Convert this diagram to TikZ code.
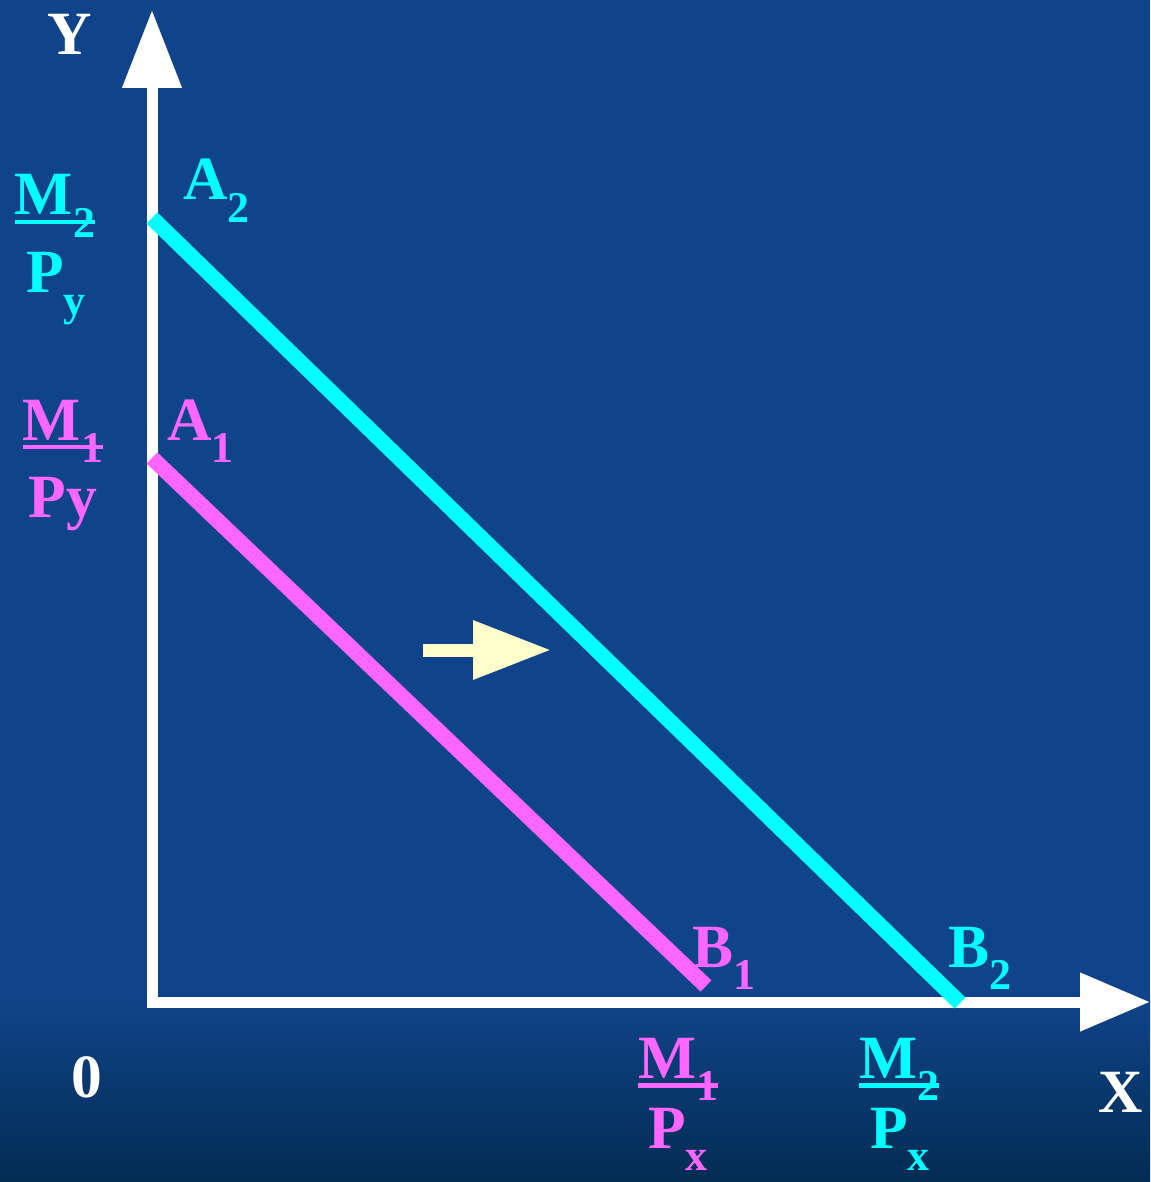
\documentclass[tikz,border=0pt]{standalone}
\usepackage{fontspec}
\setmainfont{Liberation Serif}
\usepackage{xcolor}
\usepackage{tikz}
\usetikzlibrary{arrows.meta}

\definecolor{bgblue}{RGB}{16,68,138}
\definecolor{bgdark}{RGB}{2,44,82}
\definecolor{lineone}{RGB}{255,102,255}
\definecolor{linetwo}{RGB}{0,255,255}
\definecolor{shiftcol}{RGB}{255,255,204}

% lowered subscript and the broken fraction bar
\newcommand\lowsub[1]{\raisebox{-0.37em}{\fontsize{25}{25}\selectfont #1}}
\newcommand\barM[1]{\setbox0\hbox{M\lowsub{#1}}\rlap{\rule[-5.4pt]{\wd0}{2.8pt}}\box0}

\begin{document}
\begin{tikzpicture}[x=0.02cm, y=-0.02cm,
    lbl/.style={font=\bfseries\fontsize{35}{40}\selectfont, inner sep=0pt},
    axis/.style={draw=white, line width=0.22cm, line join=miter,
        {Triangle[length=1.56cm, width=1.14cm]}-{Triangle[length=1.4cm, width=1.12cm]}},
    budget/.style={line width=0.31cm, line cap=butt}]
        \useasboundingbox (0,0) rectangle (1150,1182);
        \fill[bgblue] (0,0) rectangle (1150,1182);
        \shade[top color=bgblue, bottom color=bgdark] (0,995) rectangle (1150,1182);

        \coordinate (O) at (152,1002);
        \coordinate (ytip) at (152,10);
        \coordinate (xtip) at (1150,1002);
        \coordinate (a1) at (152,458);
        \coordinate (b1) at (706,986);
        \coordinate (a2) at (152,218);
        \coordinate (b2) at (960,1003);
        \coordinate (s0) at (423,650);
        \coordinate (s1) at (551,650);

        \draw[axis] (ytip) -- (O) -- (xtip);
        \draw[budget, lineone] (a1) -- (b1);
        \draw[budget, linetwo] (a2) -- (b2);
        \draw[shiftcol, line width=0.26cm, -{Triangle[length=1.56cm, width=1.12cm]}] (s0) -- (s1);

        \node[lbl, white, anchor=base] (ylab) at (70,55) {Y};
        \node[lbl, white, anchor=base west] (xlab) at (1098,1112) {X};
        \node[lbl, white, anchor=base] (zero) at (87,1097) {0};

        \node[lbl, linetwo, anchor=base west] (alab2) at (183,200) {A\lowsub{2}};
        \node[lbl, lineone, anchor=base west] (alab1) at (167,440) {A\lowsub{1}};
        \node[lbl, lineone, anchor=base west] (blab1) at (692,967) {B\lowsub{1}};
        \node[lbl, linetwo, anchor=base west] (blab2) at (948,967) {B\lowsub{2}};

        \node[lbl, linetwo, anchor=base] (my2) at (55,215) {\barM{2}};
        \node[lbl, linetwo, anchor=base] (py2) at (56,293) {P\lowsub{y}};
        \node[lbl, lineone, anchor=base] (my1) at (63,440) {\barM{1}};
        \node[lbl, lineone, anchor=base] (py1) at (63,517) {Py};

        \node[lbl, lineone, anchor=base] (mx1) at (678,1078) {\barM{1}};
        \node[lbl, lineone, anchor=base] (px1) at (678,1148) {P\lowsub{x}};
        \node[lbl, linetwo, anchor=base] (mx2) at (899,1078) {\barM{2}};
        \node[lbl, linetwo, anchor=base] (px2) at (900,1148) {P\lowsub{x}};

    \end{tikzpicture}
\end{document}
